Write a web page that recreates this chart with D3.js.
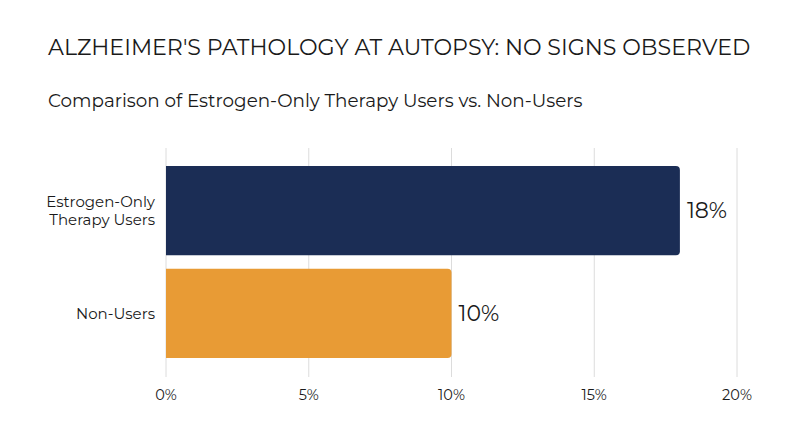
<!DOCTYPE html>
<meta charset="utf-8">
<head>
    <style>
     body { margin: 0; background: #fff; }
     text { font-family: "Montserrat", "Inter", "Noto Sans", sans-serif; fill: #1a1a1a; }
    </style>
</head>
<body>
<script src="https://d3js.org/d3.v7.min.js"></script>
<script>
 const categories = ["Estrogen-Only Therapy Users", "Non-Users"];
 const labelLines = [["Estrogen-Only", "Therapy Users"], ["Non-Users"]];
 const values = [18, 10];
 const barColors = ["#1b2d55", "#e89b35"];
 const ticks = [0, 5, 10, 15, 20];

 const width = 800, height = 447;
 const margin = {left: 166, right: 63, top: 148, bottom: 70};

 const svg = d3.select("body").append("svg")
               .attr("width", width)
               .attr("height", height);

 // titles, sized to the reference widths
 function fitText(sel, targetWidth) {
     const w = sel.node().getComputedTextLength();
     const fs = parseFloat(sel.attr("font-size"));
     sel.attr("font-size", fs * targetWidth / w);
 }

 const title = svg.append("text")
                  .attr("x", 48).attr("y", 55)
                  .attr("font-size", 22)
                  .text("ALZHEIMER'S PATHOLOGY AT AUTOPSY: NO SIGNS OBSERVED");
 fitText(title, 703);

 const subtitle = svg.append("text")
                     .attr("x", 48).attr("y", 107)
                     .attr("font-size", 17)
                     .text("Comparison of Estrogen-Only Therapy Users vs. Non-Users");
 fitText(subtitle, 535);

 const x = d3.scaleLinear()
             .domain([0, 20])
             .range([margin.left, width - margin.right]);

 const y = d3.scaleBand()
             .domain(categories)
             .range([166, 358])
             .paddingInner(0.13)
             .paddingOuter(0);

 // gridlines
 svg.append("g")
    .selectAll("line")
    .data(ticks)
    .join("line")
    .attr("x1", d => x(d)).attr("x2", d => x(d))
    .attr("y1", margin.top).attr("y2", 377)
    .attr("stroke", "#dcdcdc")
    .attr("stroke-width", 1);

 // tick labels
 svg.append("g")
    .selectAll("text")
    .data(ticks)
    .join("text")
    .attr("x", d => x(d))
    .attr("y", 400)
    .attr("text-anchor", "middle")
    .attr("font-size", 14.5)
    .text(d => d + "%");

 // bars: square on the left, rounded on the right
 const r = 4;
 function barPath(x0, x1, y0, h) {
     return `M${x0},${y0}H${x1 - r}Q${x1},${y0} ${x1},${y0 + r}V${y0 + h - r}Q${x1},${y0 + h} ${x1 - r},${y0 + h}H${x0}Z`;
 }

 svg.append("g")
    .selectAll("path")
    .data(categories)
    .join("path")
    .attr("d", (d, i) => barPath(x(0), x(values[i]), y(d), y.bandwidth()))
    .attr("fill", (d, i) => barColors[i]);

 // value labels
 svg.append("g")
    .selectAll("text")
    .data(categories)
    .join("text")
    .attr("x", (d, i) => x(values[i]) + 7)
    .attr("y", d => y(d) + y.bandwidth() / 2)
    .attr("dy", "0.35em")
    .attr("font-size", 22)
    .text((d, i) => values[i] + "%");

 // category labels
 svg.append("g")
    .selectAll("text")
    .data(categories)
    .join("text")
    .attr("x", 155)
    .attr("y", d => y(d) + y.bandwidth() / 2)
    .attr("text-anchor", "end")
    .attr("font-size", 15)
    .each(function(d, i) {
        const lines = labelLines[i];
        const t = d3.select(this);
        lines.forEach((line, j) => {
            t.append("tspan")
             .attr("x", 155)
             .attr("dy", j === 0 ? `${0.35 - (lines.length - 1) * 0.6}em` : "1.2em")
             .text(line);
        });
    });
</script>
</body>
